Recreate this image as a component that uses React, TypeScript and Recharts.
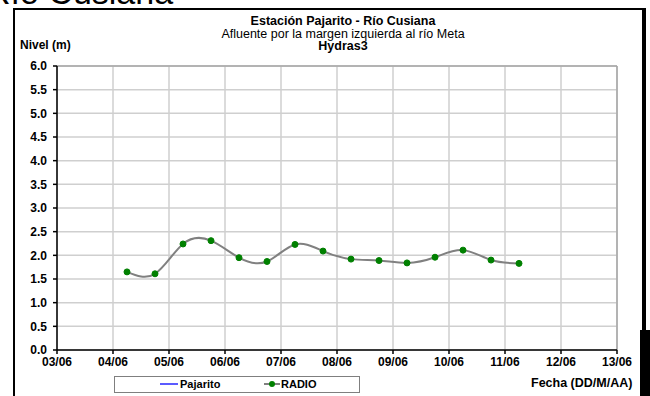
import React from "react";
import {
  LineChart,
  Line,
  XAxis,
  YAxis,
  CartesianGrid,
  ReferenceLine,
} from "recharts";

// Fecha como día de junio (fracción = hora del día)
const dias = [4.25, 4.75, 5.25, 5.75, 6.25, 6.75, 7.25, 7.75, 8.25, 8.75, 9.25, 9.75, 10.25, 10.75, 11.25];
const radio = [1.65, 1.61, 2.24, 2.31, 1.95, 1.87, 2.23, 2.09, 1.92, 1.89, 1.84, 1.96, 2.11, 1.9, 1.83];
const pajarito: (number | null)[] = [];

const xTicks = [3, 4, 5, 6, 7, 8, 9, 10, 11, 12, 13];
const yTicks = [0, 0.5, 1, 1.5, 2, 2.5, 3, 3.5, 4, 4.5, 5, 5.5, 6];

const data = dias.map((d, i) => ({
  dia: d,
  radio: radio[i],
  pajarito: pajarito[i] ?? null,
}));

const FONT = "'Liberation Sans', Arial, sans-serif";

const fmtDia = (d: number) => `${String(d).padStart(2, "0")}/06`;

export default function App() {
  return (
    <div
      style={{
        position: "absolute",
        left: 0,
        top: 0,
        width: 650,
        height: 396,
        overflow: "hidden",
        background: "#fff",
        fontFamily: FONT,
        color: "#000",
      }}
    >
      {/* encabezado del documento, cortado arriba */}
      <div
        style={{
          position: "absolute",
          left: -14,
          top: -26,
          fontSize: 34,
          lineHeight: "36px",
          whiteSpace: "nowrap",
        }}
      >
        Río Cusiana
      </div>

      {/* marco del gráfico */}
      <div
        style={{
          position: "absolute",
          left: 13,
          top: 8,
          width: 633,
          height: 400,
          borderLeft: "2px solid #000",
          borderTop: "2px solid #000",
          borderRight: "4px solid #000",
          boxSizing: "border-box",
        }}
      />
      <div
        style={{ position: "absolute", left: 640, top: 330, width: 10, height: 70, background: "#000" }}
      />

      <div style={{ position: "absolute", left: 0, top: 0 }}>
        <LineChart
          width={650}
          height={396}
          data={data}
          margin={{ top: 66, right: 33, bottom: 16, left: 0 }}
        >
          <CartesianGrid stroke="#cfcfcf" strokeWidth={1.5} />
          <XAxis
            dataKey="dia"
            type="number"
            domain={[3, 13]}
            ticks={xTicks}
            tickFormatter={fmtDia}
            interval={0}
            height={30}
            stroke="#000"
            strokeWidth={1.5}
            tickSize={4}
            tickMargin={3}
            tick={{ fontSize: 12, fontWeight: "bold", fill: "#000", fontFamily: FONT }}
          />
          <YAxis
            type="number"
            domain={[0, 6]}
            ticks={yTicks}
            tickFormatter={(v: number) => v.toFixed(1)}
            interval={0}
            width={57}
            stroke="#000"
            strokeWidth={1.5}
            tickSize={4}
            tickMargin={6}
            tick={{ fontSize: 12, fontWeight: "bold", fill: "#000", fontFamily: FONT }}
          />
          <ReferenceLine y={6} stroke="#a6a6a6" strokeWidth={1.5} />
          <ReferenceLine x={13} stroke="#a6a6a6" strokeWidth={1.5} />
          <Line
            dataKey="pajarito"
            stroke="#5b5bff"
            strokeWidth={2}
            dot={false}
            isAnimationActive={false}
          />
          <Line
            dataKey="radio"
            type="natural"
            stroke="#808080"
            strokeWidth={2}
            dot={{ r: 3, fill: "#008000", stroke: "#008000", strokeWidth: 1 }}
            isAnimationActive={false}
          />
        </LineChart>
      </div>

      {/* títulos */}
      <div
        style={{
          position: "absolute",
          left: 143,
          width: 400,
          top: 15,
          textAlign: "center",
          fontSize: 12.5,
          lineHeight: "12.5px",
        }}
      >
        <div style={{ fontWeight: "bold" }}>Estación Pajarito - Río Cusiana</div>
        <div>Afluente por la margen izquierda al río Meta</div>
        <div style={{ fontWeight: "bold" }}>Hydras3</div>
      </div>
      <div
        style={{ position: "absolute", left: 20, top: 38, fontSize: 12, fontWeight: "bold" }}
      >
        Nivel (m)
      </div>
      <div
        style={{
          position: "absolute",
          left: 531,
          top: 376,
          fontSize: 12.5,
          fontWeight: "bold",
          whiteSpace: "nowrap",
        }}
      >
        Fecha (DD/M/AA)
      </div>

      {/* leyenda */}
      <div
        style={{
          position: "absolute",
          left: 114,
          top: 376,
          width: 246,
          height: 17,
          border: "1px solid #7f7f7f",
          boxSizing: "border-box",
          fontSize: 11,
          fontWeight: "bold",
        }}
      >
        <div style={{ position: "absolute", left: 45, top: 6, width: 18, height: 2, background: "#5b5bff" }} />
        <div style={{ position: "absolute", left: 65, top: 1 }}>Pajarito</div>
        <div style={{ position: "absolute", left: 149, top: 6, width: 16, height: 2, background: "#808080" }} />
        <div
          style={{
            position: "absolute",
            left: 154,
            top: 4,
            width: 6,
            height: 6,
            borderRadius: 3,
            background: "#008000",
          }}
        />
        <div style={{ position: "absolute", left: 166, top: 1 }}>RADIO</div>
      </div>
    </div>
  );
}
